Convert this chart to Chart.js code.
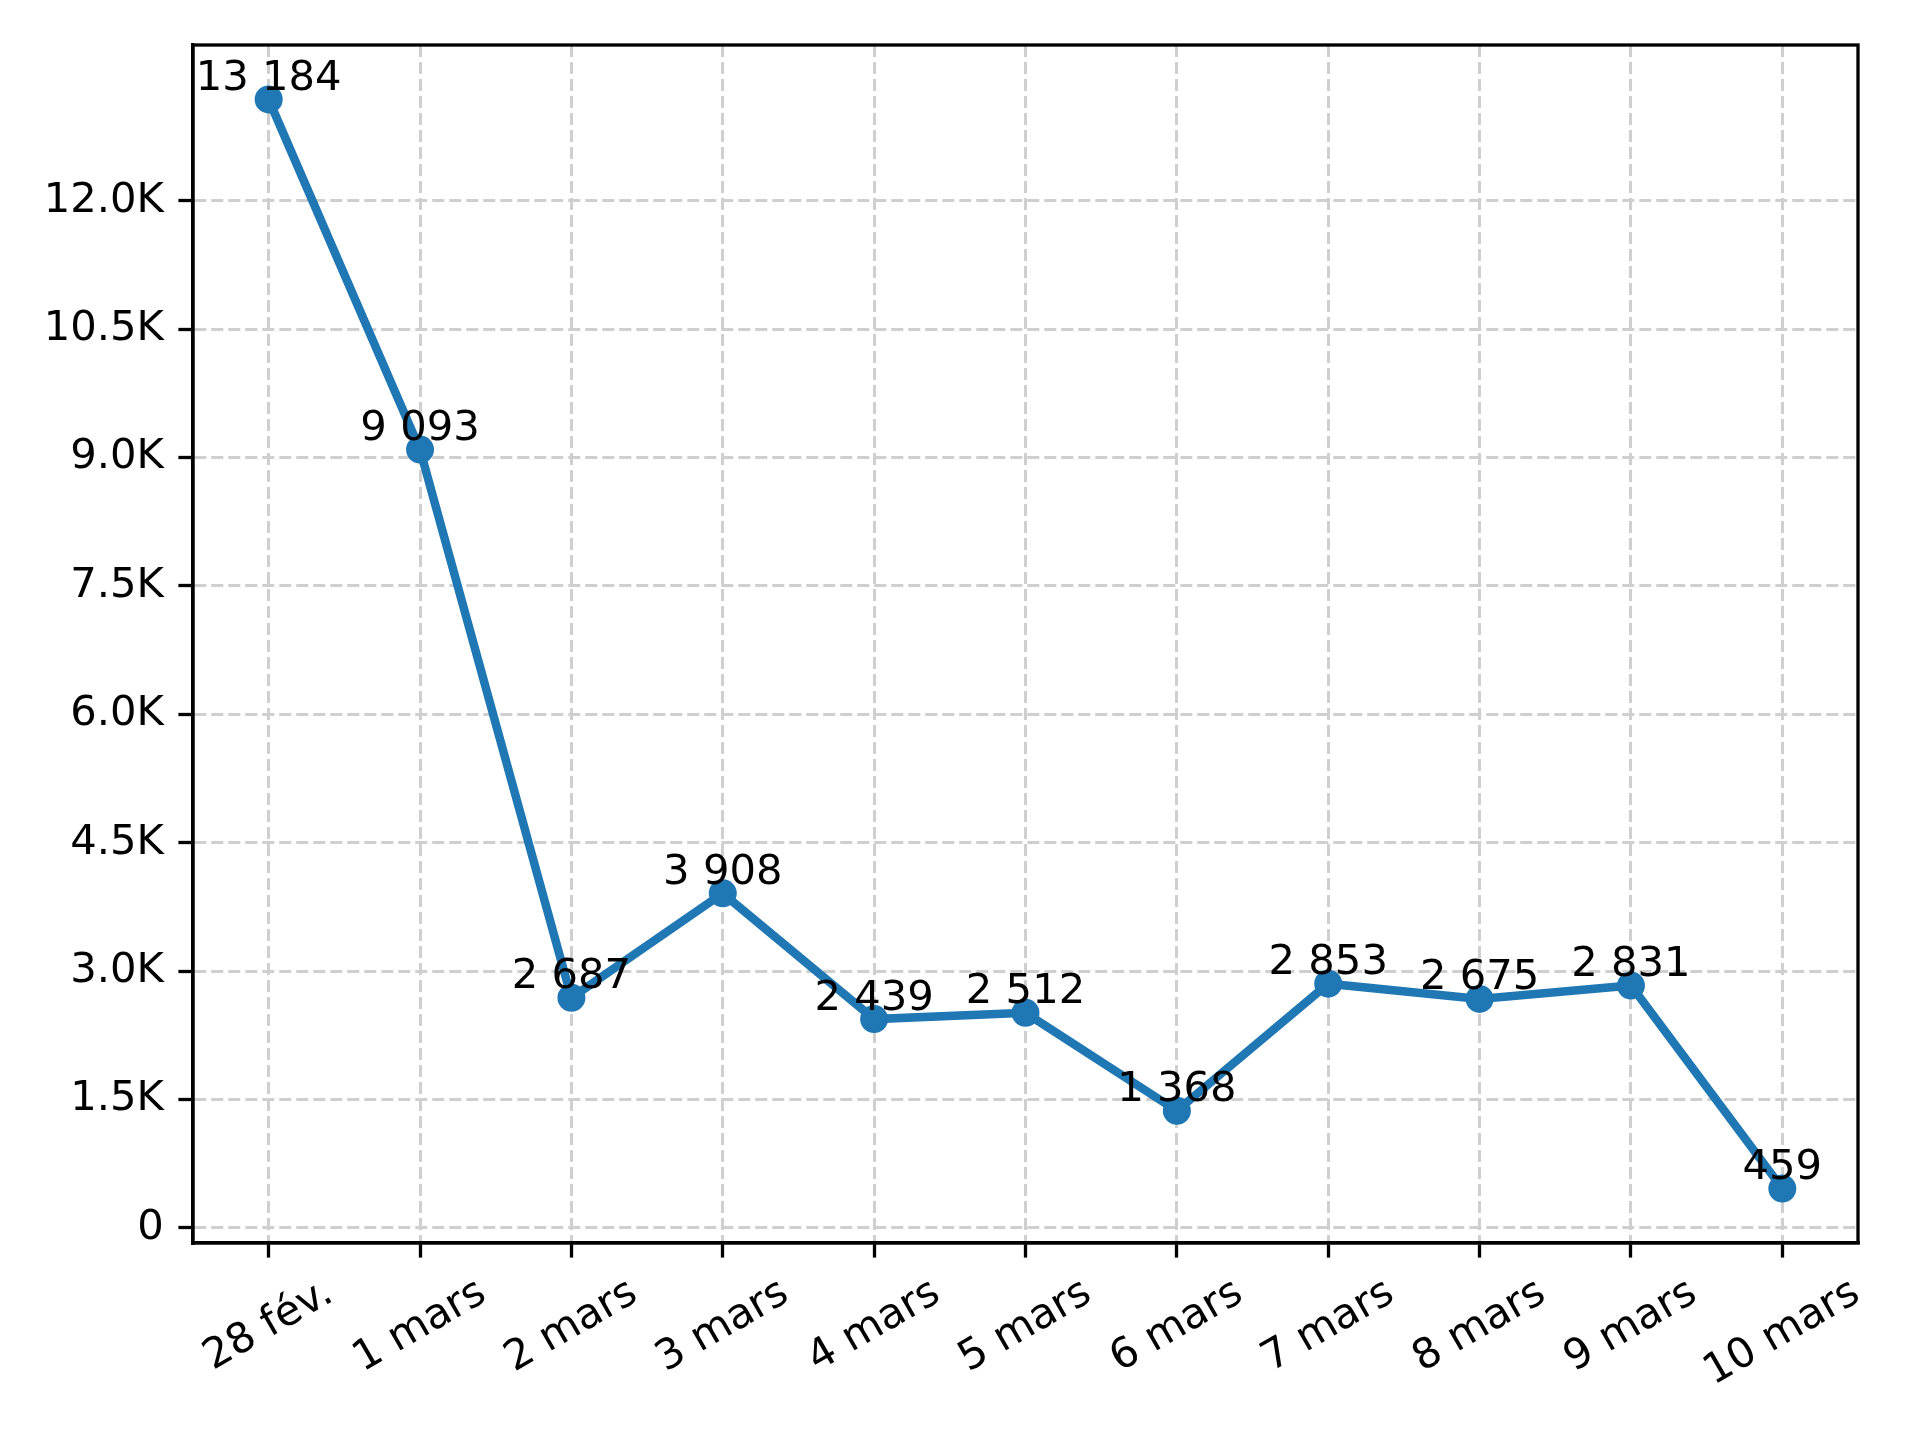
<!DOCTYPE html>
<html>
<head>
<meta charset="utf-8">
<script src="https://cdn.jsdelivr.net/npm/chart.js"></script>
<style>
  html, body { margin: 0; padding: 0; background: #fff; }
  #wrap { width: 1920px; height: 1440px; }
</style>
</head>
<body>
<div id="wrap"><canvas id="chart" width="1920" height="1440"></canvas></div>
<script>
// Données
const dayLabels = ['28 fév.', '1 mars', '2 mars', '3 mars', '4 mars', '5 mars', '6 mars', '7 mars', '8 mars', '9 mars', '10 mars'];
const counts = [13184, 9093, 2687, 3908, 2439, 2512, 1368, 2853, 2675, 2831, 459];
const yTicks = [0, 1500, 3000, 4500, 6000, 7500, 9000, 10500, 12000];
const yTickLabels = ['0', '1.5K', '3.0K', '4.5K', '6.0K', '7.5K', '9.0K', '10.5K', '12.0K'];

const blue = '#1f77b4';
const fontSize = 41.7;
const fontFamily = '"DejaVu Sans", sans-serif';

// marges comme matplotlib (5 %)
const dataMin = Math.min(...counts);
const dataMax = Math.max(...counts);
const pad = (dataMax - dataMin) * 0.05;

const fmt = v => String(v).replace(/\B(?=(\d{3})+(?!\d))/g, ' ');

// étiquettes au-dessus des points
const valueLabels = {
    id: 'valueLabels',
    afterDatasetsDraw(chart) {
        const ctx = chart.ctx;
        const meta = chart.getDatasetMeta(0);
        ctx.save();
        ctx.font = fontSize + 'px ' + fontFamily;
        ctx.fillStyle = '#000';
        ctx.textAlign = 'center';
        ctx.textBaseline = 'alphabetic';
        meta.data.forEach((pt, i) => {
            ctx.fillText(fmt(counts[i]), pt.x, pt.y - 9.5);
        });
        ctx.restore();
    }
};

// cadre complet + étiquettes x tournées à 30°
const frameAndLabels = {
    id: 'frameAndLabels',
    afterDraw(chart) {
        const ctx = chart.ctx;
        const a = chart.chartArea;
        ctx.save();
        ctx.strokeStyle = '#000';
        ctx.lineWidth = 3.3;
        ctx.strokeRect(a.left, a.top, a.right - a.left, a.bottom - a.top);

        const xs = chart.scales.x;
        ctx.font = fontSize + 'px ' + fontFamily;
        ctx.fillStyle = '#000';
        ctx.textAlign = 'center';
        ctx.textBaseline = 'alphabetic';
        const top = a.bottom + 14.6 + 14.6;
        const ang = 30 * Math.PI / 180;
        const h = fontSize;
        dayLabels.forEach((lab, i) => {
            const x = xs.getPixelForTick(i);
            const w = ctx.measureText(lab).width;
            const H = w * Math.sin(ang) + h * Math.cos(ang);
            ctx.save();
            ctx.translate(x, top + H / 2);
            ctx.rotate(-ang);
            ctx.fillText(lab, 0, 0.262 * fontSize);
            ctx.restore();
        });
        ctx.restore();
    }
};

const data = {
    labels: dayLabels,
    datasets: [{
        data: counts,
        borderColor: blue,
        backgroundColor: blue,
        borderWidth: 8.5,
        pointRadius: 12,
        pointBorderWidth: 4,
        pointBackgroundColor: blue,
        pointBorderColor: blue,
        tension: 0,
        fill: false
    }]
};

const config = {
    type: 'line',
    data: data,
    options: {
        responsive: false,
        animation: false,
        devicePixelRatio: 1,
        layout: { padding: { top: 45, right: 62, left: 0, bottom: 0 } },
        plugins: { legend: { display: false }, tooltip: { enabled: false } },
        scales: {
            x: {
                type: 'category',
                offset: true,
                grid: {
                    offset: false,
                    color: '#cfcfcf',
                    lineWidth: 3,
                    tickColor: '#000',
                    tickWidth: 3.3,
                    tickLength: 14.6
                },
                border: { display: true, color: '#000', width: 3.3, dash: [12, 5] },
                ticks: { display: false, autoSkip: false },
                afterFit: s => { s.height = 197; }
            },
            y: {
                type: 'linear',
                min: dataMin - pad,
                max: dataMax + pad,
                afterBuildTicks: s => { s.ticks = yTicks.map(v => ({ value: v })); },
                grid: {
                    color: '#cfcfcf',
                    lineWidth: 3,
                    tickColor: '#000',
                    tickWidth: 3.3,
                    tickLength: 14.6
                },
                border: { display: true, color: '#000', width: 3.3, dash: [12, 5] },
                ticks: {
                    autoSkip: false,
                    color: '#000',
                    padding: 14.6,
                    font: { family: fontFamily, size: fontSize },
                    callback: (v, i) => yTickLabels[i]
                },
                afterFit: s => { s.width = 193; }
            }
        }
    },
    plugins: [valueLabels, frameAndLabels]
};

const ctx = document.getElementById('chart').getContext('2d');
const chart = new Chart(ctx, config);
</script>
</body>
</html>
